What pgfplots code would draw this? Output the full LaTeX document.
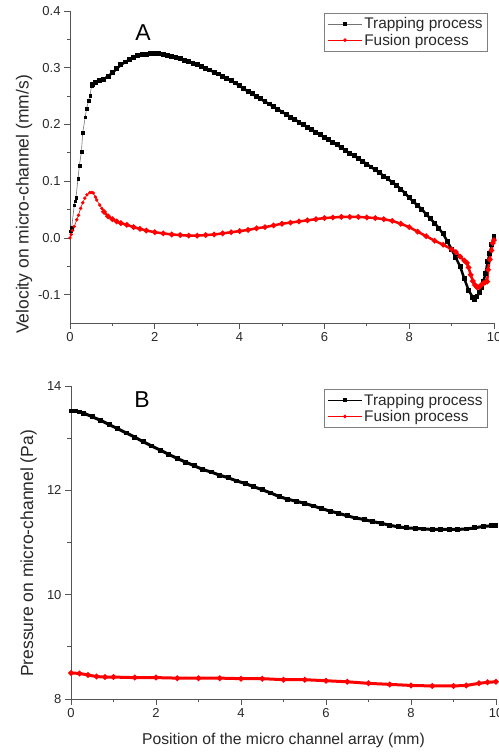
\documentclass[border=0pt]{standalone}
\usepackage{pgfplots}
\pgfplotsset{compat=1.18}
\usepackage{fontspec}
\setmainfont{Liberation Sans}
\definecolor{axgray}{RGB}{85,85,85}
\definecolor{txtgray}{RGB}{40,40,40}
\pgfplotsset{
  myaxis/.style={
    scale only axis,
    axis x line*=bottom, axis y line*=left,
    axis line style={axgray, line width=0.9bp},
    every tick/.style={axgray, line width=0.8bp},
    tick align=outside,
    major tick length=6bp, minor tick length=3.5bp,
    xmin=0, xmax=10, xtick={0,2,...,10}, minor x tick num=1,
    /pgf/number format/assume math mode=true,
    tick label style={font=\fontsize{13bp}{15bp}\selectfont, text=txtgray},
    label style={text=txtgray},
    ylabel style={font=\fontsize{17.5bp}{20bp}\selectfont},
    xlabel style={font=\fontsize{15.7bp}{18bp}\selectfont},
    legend style={font=\fontsize{15.4bp}{17bp}\selectfont, draw=gray, line width=0.7bp,
      inner xsep=3bp, inner ysep=2.5bp, row sep=-0.5bp, text=txtgray},
    legend cell align=left,
    legend image code/.code={\draw[mark repeat=2,mark phase=2,#1,line width=0.7bp,mark size=1.5bp] plot coordinates {(0bp,0bp)(17bp,0bp)(34bp,0bp)};},
    clip=false,
  }
}
\begin{document}
\begin{tikzpicture}
\useasboundingbox (0,0) rectangle (499bp,753bp);
% ---------------- Panel A ----------------
\begin{axis}[myaxis,
  at={(70bp,430bp)}, anchor=south west,
  width=424bp, height=312bp,
  ymin=-0.15, ymax=0.4, ytick={-0.1,0,0.1,0.2,0.3,0.4}, minor y tick num=1,
  yticklabel style={/pgf/number format/.cd, fixed, fixed zerofill, precision=1},
  ylabel={Velocity on micro-channel (mm/s)},
  ylabel style={at={(axis description cs:-0.108,0.38)}, anchor=center},
  legend style={at={(axis description cs:0.986,0.994)}, anchor=north east},
]
\addplot[black!55, line width=0.6bp, mark=square*, mark size=1.3bp, mark options={black, draw=black, line width=0.2bp}]
coordinates {
(0.02,0.012)(0.04,0.018)(0.10,0.058)(0.12,0.065)(0.14,0.071)(0.19,0.105)(0.22,0.127)
(0.27,0.152)(0.30,0.186)(0.36,0.213)(0.39,0.228)(0.44,0.242)(0.47,0.251)(0.51,0.268)(0.53,0.271)
};
\addlegendentry{Trapping process}
\addplot[red, line width=0.6bp, mark=*, mark size=1.4bp, mark options={red, draw=red}]
coordinates {
(0.00,0.000)(0.03,0.006)(0.06,0.013)(0.10,0.020)(0.16,0.032)(0.20,0.040)(0.25,0.052)
(0.30,0.062)(0.35,0.070)(0.40,0.076)(0.47,0.080)(0.52,0.080)(0.55,0.079)(0.60,0.072)
(0.63,0.067)(0.70,0.058)(0.75,0.052)(0.80,0.046)
};
\addlegendentry{Fusion process}
\addplot[forget plot, black, line width=2.5bp, mark=square*, mark size=1.2bp, mark options={black}]
coordinates {
(0.53,0.271)(0.6,0.274)(0.7,0.277)(0.8,0.280)(0.9,0.285)(1.0,0.291)(1.1,0.298)(1.2,0.305)
(1.3,0.310)(1.4,0.314)(1.5,0.318)(1.6,0.321)(1.7,0.323)(1.8,0.324)(1.9,0.325)(2.0,0.325)
(2.1,0.325)(2.2,0.324)(2.3,0.322)(2.4,0.320)(2.5,0.318)(2.6,0.316)(2.7,0.313)(2.8,0.311)
(2.9,0.308)(3.0,0.305)(3.1,0.302)(3.2,0.299)(3.3,0.296)(3.4,0.292)(3.5,0.289)(3.6,0.285)
(3.7,0.281)(3.8,0.277)(3.9,0.273)(4.0,0.268)(4.1,0.263)(4.2,0.258)(4.3,0.254)(4.4,0.249)
(4.5,0.245)(4.6,0.240)(4.7,0.236)(4.8,0.231)(4.9,0.227)(5.0,0.222)(5.1,0.218)(5.2,0.213)
(5.3,0.209)(5.4,0.204)(5.5,0.200)(5.6,0.195)(5.7,0.191)(5.8,0.186)(5.9,0.182)(6.0,0.177)
(6.1,0.173)(6.2,0.168)(6.3,0.164)(6.4,0.159)(6.5,0.154)(6.6,0.149)(6.7,0.145)(6.8,0.140)
(6.9,0.135)(7.0,0.130)(7.1,0.125)(7.2,0.120)(7.3,0.115)(7.4,0.109)(7.5,0.104)(7.6,0.098)
(7.7,0.093)(7.8,0.086)(7.9,0.079)(8.0,0.071)(8.1,0.064)(8.2,0.057)(8.3,0.050)(8.4,0.042)
(8.5,0.034)(8.6,0.026)(8.7,0.017)(8.8,0.007)(8.9,-0.006)(9.0,-0.020)(9.1,-0.035)(9.2,-0.050)
(9.3,-0.072)(9.4,-0.092)(9.5,-0.105)(9.55,-0.108)(9.6,-0.104)(9.65,-0.097)(9.7,-0.088)
(9.75,-0.076)(9.8,-0.063)(9.85,-0.042)(9.9,-0.027)(9.95,-0.012)(10.0,0.002)
};
\addplot[forget plot, red, line width=2.5bp, mark=*, mark size=1.3bp, mark options={red}]
coordinates {
(0.80,0.046)(0.9,0.038)(1.0,0.033)(1.1,0.029)(1.2,0.026)(1.34,0.023)(1.5,0.019)(1.65,0.016)
(1.8,0.013)(2.0,0.010)(2.2,0.008)(2.4,0.006)(2.6,0.005)(2.8,0.004)(3.0,0.004)(3.2,0.005)
(3.4,0.006)(3.6,0.008)(3.8,0.010)(4.0,0.012)(4.2,0.014)(4.4,0.017)(4.6,0.019)(4.8,0.022)
(5.0,0.025)(5.2,0.027)(5.4,0.029)(5.6,0.031)(5.8,0.033)(6.0,0.035)(6.2,0.036)(6.4,0.037)
(6.6,0.037)(6.8,0.037)(7.0,0.036)(7.2,0.035)(7.4,0.033)(7.6,0.030)(7.8,0.025)(8.0,0.019)
(8.2,0.011)(8.4,0.003)(8.6,-0.005)(8.8,-0.012)(9.0,-0.020)(9.1,-0.025)(9.2,-0.033)
(9.3,-0.040)(9.36,-0.044)(9.4,-0.052)(9.45,-0.065)(9.5,-0.076)(9.55,-0.083)(9.6,-0.087)
(9.65,-0.087)(9.7,-0.083)(9.75,-0.080)(9.8,-0.078)(9.84,-0.077)(9.86,-0.056)(9.9,-0.038)
(9.94,-0.022)(9.97,-0.009)(10.0,-0.004)
};
\node[font=\fontsize{23bp}{26bp}\selectfont, text=black] at (axis cs:1.72,0.362) {A};
\end{axis}
% ---------------- Panel B ----------------
\begin{axis}[myaxis,
  at={(71bp,54bp)}, anchor=south west,
  width=425bp, height=313bp,
  ymin=8, ymax=14, ytick={8,10,12,14}, minor y tick num=1,
  ylabel={Pressure on micro-channel (Pa)},
  ylabel style={at={(axis description cs:-0.10,0.465)}, anchor=center},
  xlabel={Position of the micro channel array (mm)},
  xlabel style={at={(axis description cs:0.5,-0.131)}, anchor=center},
  legend style={at={(axis description cs:0.981,0.990)}, anchor=north east},
]
\addplot[black, line width=3bp, mark=square*, mark size=0.9bp, mark options={black}]
coordinates {
(0.0,13.52)(0.1,13.52)(0.2,13.50)(0.3,13.48)(0.5,13.41)(0.7,13.34)(0.9,13.26)(1.1,13.18)
(1.3,13.10)(1.5,13.02)(1.7,12.93)(1.9,12.85)(2.1,12.77)(2.3,12.69)(2.5,12.61)(2.7,12.54)
(2.9,12.47)(3.1,12.40)(3.3,12.35)(3.5,12.29)(3.7,12.24)(3.9,12.18)(4.1,12.13)(4.3,12.07)
(4.5,12.01)(4.7,11.95)(4.9,11.88)(5.1,11.83)(5.3,11.79)(5.5,11.75)(5.7,11.70)(5.9,11.65)
(6.1,11.60)(6.3,11.56)(6.5,11.51)(6.7,11.47)(6.9,11.44)(7.1,11.40)(7.3,11.37)(7.5,11.33)
(7.7,11.30)(7.9,11.28)(8.1,11.27)(8.3,11.26)(8.5,11.25)(8.7,11.25)(8.9,11.25)(9.1,11.25)
(9.3,11.26)(9.5,11.28)(9.7,11.31)(9.9,11.32)(10.0,11.33)
};
\addlegendentry{Trapping process}
\addplot[red, line width=3bp, mark=*, mark size=1.0bp, mark options={red}]
coordinates {
(0.0,8.50)(0.2,8.49)(0.4,8.46)(0.6,8.43)(0.8,8.42)(1.0,8.42)(1.5,8.41)(2.0,8.41)(2.5,8.40)
(3.0,8.40)(3.5,8.40)(4.0,8.39)(4.5,8.39)(5.0,8.37)(5.5,8.37)(6.0,8.35)(6.5,8.33)(7.0,8.30)
(7.5,8.28)(8.0,8.26)(8.5,8.25)(9.0,8.25)(9.3,8.26)(9.6,8.30)(9.8,8.32)(10.0,8.33)
};
\addlegendentry{Fusion process}
\node[font=\fontsize{23bp}{26bp}\selectfont, text=black] at (axis cs:1.67,13.73) {B};
\end{axis}
\end{tikzpicture}
\end{document}
